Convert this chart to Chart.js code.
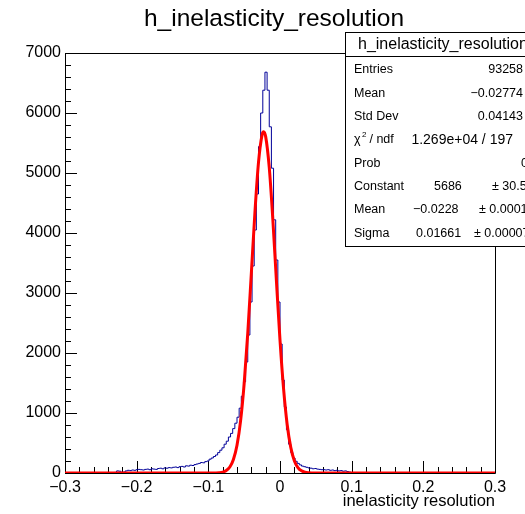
<!DOCTYPE html>
<html>
<head>
<meta charset="utf-8">
<script src="https://cdn.jsdelivr.net/npm/chart.js@4.4.0/dist/chart.umd.min.js"></script>
<style>
  body { margin: 0; background: #fff; }
  canvas { display: block; }
</style>
</head>
<body>
<canvas id="grafica" width="525" height="514"></canvas>
<script>
// histogram: 200 bins from -0.3 to 0.3
const histLow = -0.3;
const histBinWidth = 0.003;
const binCounts = [
    0, 0, 0, 0, 0, 0, 0, 0, 0, 0, 0, 0, 0, 0, 0, 0, 0, 0, 0, 0,
    0, 0, 5, 10, 35, 30, 10, 15, 35, 45, 40, 50, 45, 55, 60, 55, 50, 60, 65, 55,
    70, 65, 60, 75, 80, 70, 85, 80, 90, 85, 95, 100, 90, 105, 110, 100, 120, 115, 130, 125,
    140, 150, 160, 175, 170, 190, 200, 230, 250, 275, 300, 340, 380, 420, 480, 530, 600, 660, 740, 830,
    930, 1080, 1280, 1520, 1850, 2300, 2850, 3450, 4050, 4650, 5440, 6000, 6380, 6680, 6380, 5770, 5080, 4220, 3550, 2850,
    2150, 1550, 1100, 720, 480, 340, 250, 195, 160, 135, 115, 105, 95, 85, 80, 70, 75, 65, 60, 55,
    55, 50, 55, 45, 50, 40, 45, 35, 40, 30, 35, 25, 15, 0, 0, 0, 0, 0, 0, 0,
    0, 0, 0, 0, 0, 0, 0, 0, 0, 0, 0, 0, 0, 0, 0, 0, 0, 0, 0, 0,
    0, 0, 0, 0, 0, 0, 0, 0, 0, 0, 0, 0, 0, 0, 0, 0, 0, 0, 0, 0,
    0, 0, 0, 0, 0, 0, 0, 0, 0, 0, 0, 0, 0, 0, 0, 0, 0, 0, 0, 0
];

// gaussian fit curve
const fitX = [-0.3, -0.1, -0.095, -0.09, -0.085, -0.08, -0.075, -0.07, -0.065, -0.06, -0.055, -0.05, -0.045, -0.04, -0.035, -0.03, -0.025, -0.0228,
    -0.02, -0.015, -0.01, -0.005, 0, 0.005, 0.01, 0.015, 0.02, 0.025, 0.03, 0.035, 0.04, 0.045, 0.05, 0.3];
const fitY = [0, 0, 0.5, 1.6, 5, 15, 41, 100, 225, 463, 868, 1488, 2327, 3326, 4342, 5176, 5636, 5686,
    5606, 5092, 4225, 3202, 2216, 1402, 809, 427, 206, 90, 36, 13, 4.5, 1.4, 0.4, 0];

const statLabels = ['Entries', 'Mean', 'Std Dev', 'χ² / ndf', 'Prob', 'Constant', 'Mean', 'Sigma'];
const statValues = ['93258', '\u22120.02774', '0.04143', '1.269e+04 / 197', '0', '5686', '\u22120.0228', '0.01661'];
const statErrors = ['', '', '', '', '', '30.5', '0.0001', '0.00007'];

const titulo = 'h_inelasticity_resolution';
const tituloX = 'inelasticity resolution';

const fuente = '"Liberation Sans", Arial, Helvetica, sans-serif';

const puntosHist = binCounts.map((c, i) => ({ x: histLow + i * histBinWidth, y: c }));
puntosHist.push({ x: histLow + binCounts.length * histBinWidth, y: binCounts[binCounts.length - 1] });
const puntosFit = fitX.map((x, i) => ({ x: x, y: fitY[i] }));

function etiquetaX(v) {
    if (Math.abs(v) < 1e-9) return '0';
    return (v < 0 ? '\u2212' : '') + Math.abs(v).toFixed(1);
}

const estiloRoot = {
    id: 'estiloRoot',
    beforeDatasetsDraw(chart) {
        const ctx = chart.ctx;
        const a = chart.chartArea;
        const sx = chart.scales.x, sy = chart.scales.y;
        ctx.save();
        ctx.strokeStyle = '#000';
        ctx.lineWidth = 1;
        ctx.beginPath();
        ctx.rect(Math.round(a.left) + 0.5, Math.round(a.top) + 0.5, Math.round(a.right - a.left), Math.round(a.bottom - a.top));
        // y ticks inside the frame
        for (let v = 0; v <= 7000; v += 200) {
            const py = Math.round(sy.getPixelForValue(v)) + 0.5;
            const len = v % 1000 === 0 ? 12 : 6;
            ctx.moveTo(a.left, py);
            ctx.lineTo(a.left + len, py);
        }
        // x ticks
        for (let i = 0; i <= 30; i++) {
            const px = Math.round(sx.getPixelForValue(-0.3 + i * 0.02)) + 0.5;
            const len = i % 5 === 0 ? 12 : 6;
            ctx.moveTo(px, a.bottom);
            ctx.lineTo(px, a.bottom - len);
        }
        ctx.stroke();
        ctx.restore();
    },
    afterDraw(chart) {
        const ctx = chart.ctx;
        ctx.save();
        // title
        ctx.fillStyle = '#000';
        ctx.font = '24.5px ' + fuente;
        ctx.textAlign = 'center';
        ctx.textBaseline = 'alphabetic';
        ctx.fillText(titulo, 274, 26);

        // stats box
        ctx.fillStyle = '#fff';
        ctx.fillRect(345, 32, 200, 214);
        ctx.strokeStyle = '#000';
        ctx.lineWidth = 1;
        ctx.strokeRect(345.5, 32.5, 200, 214);
        ctx.beginPath();
        ctx.moveTo(345, 56.5);
        ctx.lineTo(525, 56.5);
        ctx.stroke();

        ctx.fillStyle = '#000';
        ctx.font = '16px ' + fuente;
        ctx.textAlign = 'left';
        ctx.textBaseline = 'middle';
        ctx.fillText(titulo, 358, 45);

        const f = '12.5px ' + fuente;
        ctx.font = f;
        for (let i = 0; i < statLabels.length; i++) {
            const yy = 70 + 23.3 * i;
            ctx.textAlign = 'left';
            if (i === 3) {
                ctx.fillText('χ', 354, yy);
                ctx.font = '8px ' + fuente;
                ctx.fillText('2', 362, yy - 5);
                ctx.font = f;
                ctx.fillText(' / ndf', 366, yy);
            } else {
                ctx.fillText(statLabels[i], 354, yy);
            }
            if (i < 3) {
                ctx.textAlign = 'right';
                ctx.fillText(statValues[i], 523, yy);
            } else if (i === 3) {
                ctx.font = '14px ' + fuente;
                ctx.textAlign = 'right';
                ctx.fillText(statValues[i], 513, yy);
                ctx.font = f;
            } else if (i === 4) {
                ctx.textAlign = 'right';
                ctx.fillText(statValues[i], 528, yy);
            } else {
                // value, then "± error" towards the right edge
                ctx.textAlign = 'left';
                ctx.fillText(statValues[i], [434, 413, 416][i - 5], yy);
                ctx.fillText('\u00b1 ' + statErrors[i], [492, 479, 474][i - 5], yy);
            }
        }
        ctx.restore();
    }
};

Chart.defaults.color = '#000';
Chart.defaults.font.family = fuente;

new Chart(document.getElementById('grafica').getContext('2d'), {
    type: 'line',
    data: {
        datasets: [
            {
                label: 'fit',
                data: puntosFit,
                borderColor: '#ff0000',
                borderWidth: 3,
                pointRadius: 0,
                cubicInterpolationMode: 'monotone',
                fill: false
            },
            {
                label: titulo,
                data: puntosHist,
                borderColor: '#000099',
                borderWidth: 1,
                pointRadius: 0,
                stepped: true,
                fill: false
            }
        ]
    },
    options: {
        responsive: false,
        animation: false,
        devicePixelRatio: 1,
        layout: { padding: { left: 0, top: 53, right: 30, bottom: 0 } },
        plugins: {
            legend: { display: false },
            tooltip: { enabled: false },
            title: { display: false }
        },
        scales: {
            x: {
                type: 'linear',
                min: -0.3,
                max: 0.3,
                grid: { display: false, drawTicks: false },
                border: { display: false },
                ticks: {
                    stepSize: 0.1,
                    padding: 5,
                    maxRotation: 0,
                    font: { size: 16 },
                    callback: etiquetaX
                },
                title: {
                    display: true,
                    text: tituloX,
                    align: 'end',
                    font: { size: 16.5 },
                    padding: { top: 0, bottom: 3 }
                },
                afterFit(scale) { scale.height = 41; }
            },
            y: {
                min: 0,
                max: 7000,
                grid: { display: false, drawTicks: false },
                border: { display: false },
                ticks: {
                    stepSize: 1000,
                    padding: 4,
                    font: { size: 16 },
                    callback: v => String(v)
                },
                afterFit(scale) { scale.width = 65; }
            }
        }
    },
    plugins: [estiloRoot]
});
</script>
</body>
</html>
